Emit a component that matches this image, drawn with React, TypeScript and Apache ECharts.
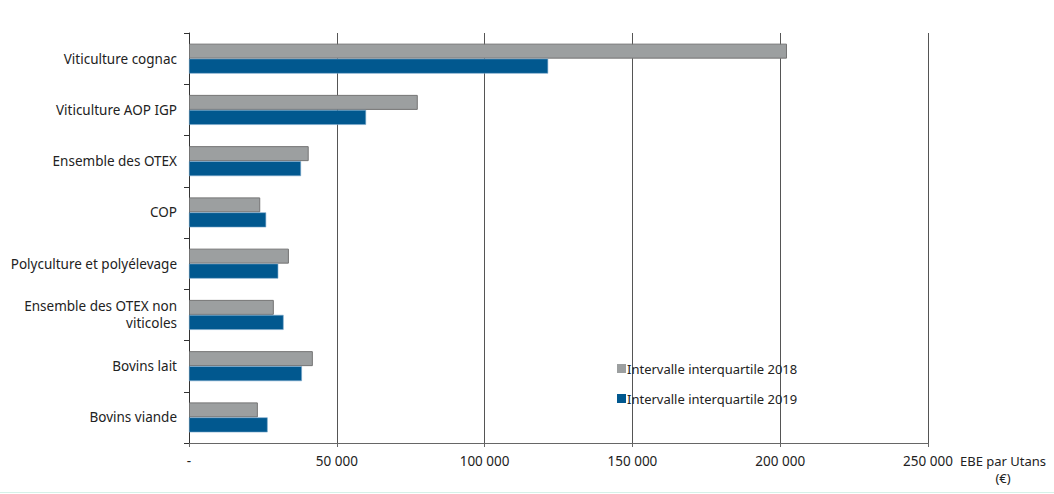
import React, { useEffect, useRef } from "react";
import * as echarts from "echarts";

const categories = [
  "Viticulture cognac",
  "Viticulture AOP IGP",
  "Ensemble des OTEX",
  "COP",
  "Polyculture et polyélevage",
  "Ensemble des OTEX non\nviticoles",
  "Bovins lait",
  "Bovins viande",
];
const series2018 = [202300, 77400, 40500, 24100, 33800, 28700, 41900, 23300];
const series2019 = [121500, 59900, 37900, 26100, 30200, 32000, 38200, 26600];
const xTicks = [0, 50000, 100000, 150000, 200000, 250000];

const fmt = (v: number) =>
  v === 0 ? "-" : String(v).replace(/\B(?=(\d{3})+(?!\d))/g, " ");

export default function App() {
  const ref = useRef<HTMLDivElement>(null);
  useEffect(() => {
    const chart = echarts.init(ref.current!, undefined, { renderer: "svg" });
    const font = "'Noto Sans', sans-serif";
    chart.setOption({
      animation: false,
      textStyle: { fontFamily: font },
      grid: { left: 189, right: 126, top: 33, bottom: 51, containLabel: false },
      legend: {
        orient: "vertical",
        left: 612,
        top: 357,
        itemWidth: 9,
        itemHeight: 9,
        itemGap: 17,
        icon: "rect",
        itemStyle: { borderWidth: 0 },
        textStyle: { fontSize: 13, color: "#222", fontFamily: font, padding: [0, 0, 0, -4] },
        data: ["Intervalle interquartile 2018", "Intervalle interquartile 2019"],
      },
      xAxis: {
        type: "value",
        min: xTicks[0],
        max: xTicks[xTicks.length - 1],
        interval: 50000,
        axisLine: { show: true, lineStyle: { color: "#666", width: 1 } },
        axisTick: { show: true, length: 4, lineStyle: { color: "#666" } },
        splitLine: { show: true, lineStyle: { color: "#555", width: 1 } },
        axisLabel: {
          formatter: (v: number) => fmt(v),
          fontSize: 13.5,
          color: "#222",
          margin: 11,
          fontFamily: font,
        },
        name: "EBE par Utans\n(€)",
        nameLocation: "end",
        nameGap: 75,
        nameTextStyle: {
          fontSize: 13,
          color: "#222",
          align: "center",
          verticalAlign: "top",
          padding: [9, 0, 0, 0],
          lineHeight: 17,
          fontFamily: font,
        },
      },
      yAxis: {
        type: "category",
        inverse: true,
        data: categories,
        axisLine: { show: true, lineStyle: { color: "#333", width: 1 } },
        axisTick: { show: true, length: 5, lineStyle: { color: "#333" } },
        axisLabel: {
          fontSize: 13.5,
          color: "#222",
          margin: 12,
          lineHeight: 17,
          align: "right",
          fontFamily: font,
        },
        splitLine: { show: false },
      },
      series: [
        {
          name: "Intervalle interquartile 2018",
          type: "bar",
          data: series2018,
          barWidth: 15,
          barGap: "0%",
          itemStyle: { color: "#9c9fa0", borderColor: "#747474", borderWidth: 1 },
        },
        {
          name: "Intervalle interquartile 2019",
          type: "bar",
          data: series2019,
          barWidth: 15,
          barGap: "0%",
          itemStyle: { color: "#01588f", borderColor: "#7aa7cb", borderWidth: 0.6 },
        },
      ],
      graphic: [
        {
          type: "line",
          shape: { x1: 0, y1: 492.5, x2: 1054, y2: 492.5 },
          style: { stroke: "#d6f1e8", lineWidth: 1 },
        },
      ],
    });
    return () => chart.dispose();
  }, []);
  return <div ref={ref} style={{ width: 1054, height: 494, position: "absolute", left: 0, top: 0 }} />;
}
